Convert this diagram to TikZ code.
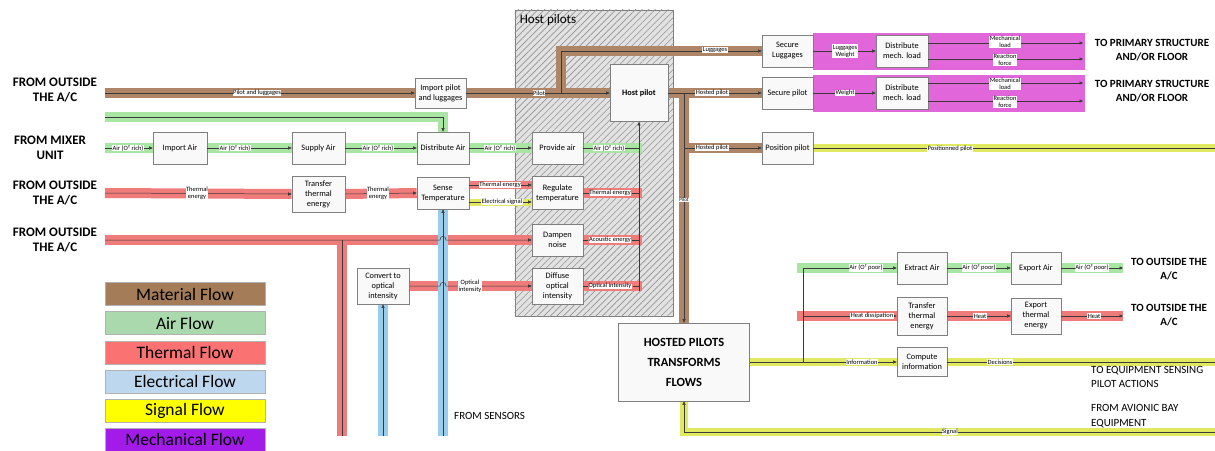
\documentclass[tikz,border=0pt]{standalone}
\usepackage{fontspec}
\setmainfont{Carlito}
\usetikzlibrary{arrows.meta,patterns.meta,calc}
\pgfdeclarelayer{back}
\pgfdeclarelayer{bg}
\pgfsetlayers{back,bg,main}
\definecolor{cBrown}{HTML}{AE8667}
\definecolor{cGreen}{HTML}{A9E6A3}
\definecolor{cRed}{HTML}{F07B7B}
\definecolor{cBlue}{HTML}{9ACDEB}
\definecolor{cYellow}{HTML}{E0E960}
\definecolor{cMag}{HTML}{E066DA}
\definecolor{lBrown}{HTML}{A47C58}
\definecolor{lGreen}{HTML}{A9D9AD}
\definecolor{lRed}{HTML}{FA7272}
\definecolor{lBlue}{HTML}{BDD7EE}
\definecolor{lYellow}{HTML}{FFFF00}
\definecolor{lMag}{HTML}{A21BE8}
\definecolor{cBoxLine}{HTML}{7F7F7F}
\definecolor{cWire}{HTML}{3A3A3A}
\definecolor{cHatchBg}{HTML}{E2E2E2}
\definecolor{cHatch}{HTML}{939393}
\tikzset{
  fbox/.style={draw=cBoxLine, fill=gray!5, line width=0.6pt, align=center, inner sep=1pt,
    font=\fontsize{8.3}{10}\selectfont, minimum height=32pt},
  matband/.style={draw=cBrown, line width=10pt},
  airband/.style={draw=cGreen, line width=10pt},
  thband/.style={draw=cRed, line width=10pt},
  elband/.style={draw=cBlue, line width=10pt},
  sigband/.style={draw=cYellow, line width=8pt},
  wr/.style={draw=cWire, line width=0.5pt},
  arr/.style={-{Triangle[length=3.5pt,width=3pt]}},
  lb/.style={fill=white, inner sep=0.5pt, align=center, font=\fontsize{6.5}{7}\selectfont},
  bigtxt/.style={align=center, font=\fontsize{13}{15}\selectfont\bfseries},
  rtxt/.style={align=center, font=\fontsize{11}{14}\selectfont\bfseries},
  ltxt/.style={align=left, anchor=west, inner sep=0pt, font=\fontsize{11}{14.5}\selectfont},
  leg/.style={minimum width=160pt, minimum height=23pt, inner sep=0pt, draw=gray!60, line width=0.4pt, font=\fontsize{17.5}{18}\selectfont},
}
\begin{document}
\begin{tikzpicture}[x=1pt,y=-1pt]
\useasboundingbox (0,0) rectangle (1215,450);

\begin{pgfonlayer}{back}
\fill[white] (0,0) rectangle (1215,450);
\node[draw=cBoxLine, fill=cHatchBg, minimum width=158pt, minimum height=306pt, inner sep=0pt, line width=0.7pt] (hostreg) at (594,163) {};
\fill[pattern={Lines[angle=45,distance=4.6pt,line width=0.6pt]}, pattern color=cHatch] (hostreg.south west) rectangle (hostreg.north east);
\node[anchor=north west, inner sep=0pt, font=\fontsize{13}{15}\selectfont] (hosttitle) at ([xshift=5pt,yshift=-5pt]hostreg.north west) {Host pilots};
\fill[cMag] (813,33) rectangle (1085,70);
\fill[cMag] (813,75) rectangle (1085,112);
\end{pgfonlayer}

% boxes
\node[fbox, minimum width=51pt, minimum height=30pt] (impPL) at (440.5,93) {Import pilot\\and luggages};
\node[fbox, minimum width=58pt, minimum height=57pt, font=\fontsize{8.3}{10}\selectfont\bfseries] (hostP) at (639,93) {Host pilot};
\node[fbox, minimum width=51pt] (secL) at (787.5,51) {Secure\\Luggages};
\node[fbox, minimum width=52pt] (dmlA) at (902,51) {Distribute\\mech. load};
\node[fbox, minimum width=51pt] (secP) at (787.5,93) {Secure pilot};
\node[fbox, minimum width=52pt] (dmlB) at (902,93) {Distribute\\mech. load};
\node[fbox, minimum width=51pt] (posP) at (787.5,148) {Position pilot};
\node[fbox, minimum width=54pt] (impAir) at (180,148) {Import Air};
\node[fbox, minimum width=53pt] (supAir) at (318.5,148) {Supply Air};
\node[fbox, minimum width=52pt] (distAir) at (443,148) {Distribute Air};
\node[fbox, minimum width=51pt] (provAir) at (557.5,148) {Provide air};
\node[fbox, minimum width=53pt, minimum height=36pt] (trTh) at (318.5,194) {Transfer\\thermal\\energy};
\node[fbox, minimum width=52pt] (sense) at (443,193) {Sense\\Temperature};
\node[fbox, minimum width=51pt, minimum height=33pt] (regT) at (557.5,193) {Regulate\\temperature};
\node[fbox, minimum width=51pt] (damp) at (557.5,240) {Dampen\\noise};
\node[fbox, minimum width=52pt, minimum height=36pt] (conv) at (383,286) {Convert to\\optical\\intensity};
\node[fbox, minimum width=51pt, minimum height=36pt] (diff) at (557.5,286) {Diffuse\\optical\\intensity};
\node[fbox, minimum width=131pt, minimum height=78pt, font=\fontsize{12.5}{20}\selectfont\bfseries] (hosted) at (684,362) {HOSTED PILOTS\\TRANSFORMS\\FLOWS};
\node[fbox, minimum width=50pt] (extA) at (922,268) {Extract Air};
\node[fbox, minimum width=50pt] (expA) at (1036,268) {Export Air};
\node[fbox, minimum width=50pt, minimum height=38pt] (trThB) at (922,316) {Transfer\\thermal\\energy};
\node[fbox, minimum width=50pt, minimum height=36pt] (expTh) at (1036,316) {Export\\thermal\\energy};
\node[fbox, minimum width=50pt, minimum height=29pt] (comp) at (922,362) {Compute\\information};

% free ends and junctions
\coordinate (inMat) at (105,93);
\coordinate (inLoop) at (105,117);
\coordinate (inAir) at (105,148);
\coordinate (inTh) at (105,193);
\coordinate (inNoise) at (105,240);
\coordinate (thDown) at (342,436);
\coordinate (elA) at (383,436);
\coordinate (elB) at (443,436);
\coordinate (coll) at (639,291);
\coordinate (collE) at (642,291);
\coordinate (jLug) at (561,93);
\coordinate (outPos) at (1215,148);
\coordinate (outDec) at (1215,362);
\coordinate (inSig) at (1215,432);
\coordinate (jInfo) at (803,362);
\coordinate (outAir) at (1123,268);
\coordinate (outHeat) at (1123,316);
\coordinate (rowAir) at (797,268);
\coordinate (rowHeat) at (797,316);
\coordinate (moA) at (1083,43);
\coordinate (moB) at (1083,59);
\coordinate (moC) at (1083,83);
\coordinate (moD) at (1083,101);

% bands
\begin{pgfonlayer}{bg}
\draw[matband] (inMat) -- (impPL.west);
\draw[matband] (impPL.east) -- (hostP.west);
\draw[matband] ([yshift=-5pt]jLug) |- (secL.west);
\draw[matband] (hostP.east) -- (secP.west);
\draw[matband] ([yshift=5pt]hostP.east -| hosted.north) -- (hosted.north);
\draw[matband] (hosted.north |- posP.west) -- (posP.west);
\draw[airband] (inAir) -- (impAir.west);
\draw[airband] (impAir.east) -- (supAir.west);
\draw[airband] (supAir.east) -- (distAir.west);
\draw[airband] (distAir.east) -- (provAir.west);
\draw[airband] (provAir.east) -- (provAir.east -| collE);
\draw[airband] (inLoop) -| (distAir.north);
\draw[airband] (rowAir) -- (outAir);
\draw[thband] (inTh) -- (trTh.west);
\draw[thband] (trTh.east) -- (sense.west);
\draw[thband, line width=8pt] ([yshift=8pt]sense.east) -- ([yshift=8pt]regT.west);
\draw[thband] (regT.east) -- (regT.east -| collE);
\draw[thband] (inNoise) -- (damp.west);
\draw[thband] (thDown) -- ([yshift=5pt]thDown |- damp.west);
\draw[thband] (damp.east) -- (damp.east -| collE);
\draw[thband] (conv.east) -- (diff.west);
\draw[thband] (diff.east) -- (diff.east -| collE);
\draw[thband] (rowHeat) -- (outHeat);
\draw[elband] (elA) -- (conv.south);
\draw[elband] (elB) -- (sense.south);
\draw[sigband, line width=7pt] ([yshift=-9pt]sense.east) -- ([yshift=-9pt]regT.west);
\draw[sigband] (posP.east) -- (outPos);
\draw[sigband] (hosted.east) -- (outDec);
\draw[sigband] (inSig) -| (hosted.south);
\end{pgfonlayer}

% wires
\draw[wr,arr] (inMat) -- (impPL.west);
\draw[wr,arr] (impPL.east) -- (hostP.west);
\draw[wr,arr] (jLug) |- (secL.west);
\draw[wr,arr] (hostP.east) -- (secP.west);
\draw[wr,arr] (hostP.east -| hosted.north) -- (hosted.north);
\draw[wr,arr] (hosted.north |- posP.west) -- (posP.west);
\draw[wr,arr] (secL.east) -- (dmlA.west);
\draw[wr,arr] ([yshift=8pt]dmlA.east) -- (moA);
\draw[wr,arr] ([yshift=-8pt]dmlA.east) -- (moB);
\draw[wr,arr] (secP.east) -- (dmlB.west);
\draw[wr,arr] ([yshift=10pt]dmlB.east) -- (moC);
\draw[wr,arr] ([yshift=-8pt]dmlB.east) -- (moD);
\draw[wr] (posP.east) -- (outPos);
\draw[wr,arr] (inAir) -- (impAir.west);
\draw[wr,arr] (impAir.east) -- (supAir.west);
\draw[wr,arr] (supAir.east) -- (distAir.west);
\draw[wr,arr] (distAir.east) -- (provAir.west);
\draw[wr] (provAir.east) -- (provAir.east -| coll);
\draw[wr,arr] (inLoop) -| (distAir.north);
\draw[wr,arr] (inTh) -- (trTh.west);
\draw[wr,arr] (trTh.east) -- (sense.west);
\draw[wr,arr] ([yshift=8pt]sense.east) -- ([yshift=8pt]regT.west);
\draw[wr,arr] ([yshift=-9pt]sense.east) -- ([yshift=-9pt]regT.west);
\draw[wr] (regT.east) -- (regT.east -| coll);
\draw[wr,arr] (inNoise) -- (440,240) .. controls (440,235) and (446,235) .. (446,240) -- (damp.west);
\draw[wr] (thDown) -- (thDown |- damp.west);
\draw[wr] (damp.east) -- (damp.east -| coll);
\draw[wr,arr] (conv.east) -- (440,286) .. controls (440,281) and (446,281) .. (446,286) -- (diff.west);
\draw[wr] (diff.east) -- (diff.east -| coll);
\draw[wr,arr] (coll) -- (hostP.south);
\draw[wr,arr] (elA) -- (conv.south);
\draw[wr,arr] (elB) -- (sense.south);
\draw[wr,arr] (hosted.east) -- (comp.west);
\draw[wr] (comp.east) -- (outDec);
\draw[wr,arr] (inSig) -| (hosted.south);
\draw[wr,arr] (jInfo) |- (extA.west);
\draw[wr,arr] (jInfo |- trThB.west) -- (trThB.west);
\draw[wr,arr] (extA.east) -- (expA.west);
\draw[wr,arr] (expA.east) -- (outAir);
\draw[wr,arr] (trThB.east) -- (expTh.west);
\draw[wr,arr] (expTh.east) -- (outHeat);

% connector labels
\node[lb] at (257,93) {Pilot and luggages};
\node[lb] at (539,93) {Pilot};
\node[lb] at (715,50) {Luggages};
\node[lb] at (712,93) {Hosted pilot};
\node[lb] at (712,148) {Hosted pilot};
\node[lb, font=\fontsize{5}{5}\selectfont] at (684,200) {Pilot};
\node[lb] at (845,51) {Luggages\\Weight};
\node[lb] at (845,93) {Weight};
\node[lb] at (1005,42) {Mechanical\\load};
\node[lb] at (1005,60) {Reaction\\force};
\node[lb] at (1005,84) {Mechanical\\load};
\node[lb] at (1005,102) {Reaction\\force};
\node[lb] at (950,149) {Positionned pilot};
\node[lb] at (128,148) {Air (O² rich)};
\node[lb] at (235,148) {Air (O² rich)};
\node[lb] at (378,148) {Air (O² rich)};
\node[lb] at (500,148) {Air (O² rich)};
\node[lb] at (609,148) {Air (O² rich)};
\node[lb] at (197,193) {Thermal\\energy};
\node[lb] at (378,193) {Thermal\\energy};
\node[lb] at (500,185) {Thermal energy};
\node[lb] at (502,202) {Electrical signal};
\node[lb, draw=cRed, line width=0.4pt] at (610,193) {Thermal energy};
\node[lb, draw=cRed, line width=0.4pt] at (610,240) {Acoustic energy};
\node[lb] at (470,286) {Optical\\intensity};
\node[lb, draw=cRed, line width=0.4pt] at (610,286) {Optical intensity};
\node[lb] at (862,362) {Information};
\node[lb] at (1000,362) {Decisions};
\node[lb] at (950,432) {Signal};
\node[lb] at (866,268) {Air (O² poor)};
\node[lb] at (979,268) {Air (O² poor)};
\node[lb] at (1092,268) {Air (O² poor)};
\node[lb] at (872,316) {Heat dissipation};
\node[lb] at (980,316) {Heat};
\node[lb] at (1094,316) {Heat};

% texts
\node[bigtxt] (t1) at (55,90) {FROM OUTSIDE\\THE A/C};
\node[bigtxt] (t2) at (50,148) {FROM MIXER\\UNIT};
\node[bigtxt] (t3) at (55,193) {FROM OUTSIDE\\THE A/C};
\node[bigtxt] (t4) at (55,240) {FROM OUTSIDE\\THE A/C};
\node[rtxt] (t5) at (1152,50) {TO PRIMARY STRUCTURE\\AND/OR FLOOR};
\node[rtxt] (t6) at (1152,91) {TO PRIMARY STRUCTURE\\AND/OR FLOOR};
\node[rtxt] (t7) at (1169,269) {TO OUTSIDE THE\\A/C};
\node[rtxt] (t8) at (1169,315) {TO OUTSIDE THE\\A/C};
\node[ltxt] (t9) at (1091,377) {TO EQUIPMENT SENSING\\PILOT ACTIONS};
\node[ltxt] (t10) at (1091,416) {FROM AVIONIC BAY\\EQUIPMENT};
\node[ltxt] (t11) at (454,416) {FROM SENSORS};

% legend
\node[leg, fill=lBrown] (lg1) at (185,294) {Material Flow};
\node[leg, fill=lGreen] (lg2) at (185,323) {Air Flow};
\node[leg, fill=lRed] (lg3) at (185,352.5) {Thermal Flow};
\node[leg, fill=lBlue] (lg4) at (185,381.5) {Electrical Flow};
\node[leg, fill=lYellow] (lg5) at (185,410.5) {Signal Flow};
\node[leg, fill=lMag] (lg6) at (185,439.5) {Mechanical Flow};
\end{tikzpicture}
\end{document}
